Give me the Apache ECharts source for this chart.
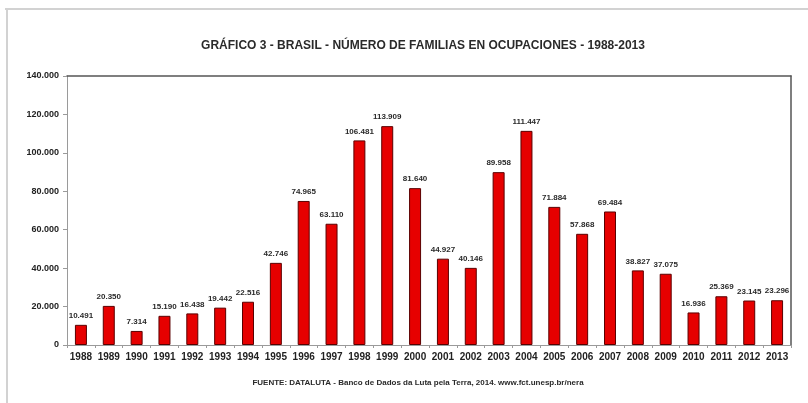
<!DOCTYPE html>
<html>
<head>
<meta charset="utf-8">
<style>
  html, body { margin: 0; padding: 0; background: #ffffff; }
  #chart { width: 808px; height: 403px; }
</style>
<script src="https://cdn.jsdelivr.net/npm/echarts@6/dist/echarts.min.js"></script>
</head>
<body>
<div id="chart"></div>
<script>
// Years on the category axis
const years = ['1988','1989','1990','1991','1992','1993','1994','1995','1996','1997','1998','1999','2000',
               '2001','2002','2003','2004','2005','2006','2007','2008','2009','2010','2011','2012','2013'];

// Families in land occupations per year
const families = [10491, 20350, 7314, 15190, 16438, 19442, 22516, 42746, 74965, 63110, 106481, 113909, 81640,
                  44927, 40146, 89958, 111447, 71884, 57868, 69484, 38827, 37075, 16936, 25369, 23145, 23296];

// Value axis range
const yMin = 0;
const yMax = 140000;
const yStep = 20000;

const titleText = 'GRÁFICO 3 - BRASIL - NÚMERO DE FAMILIAS EN OCUPACIONES - 1988-2013';
const sourceText = 'FUENTE: DATALUTA - Banco de Dados da Luta pela Terra, 2014. www.fct.unesp.br/nera';

// Thousands separated with a dot, as in Spanish/Portuguese usage
function fmt(v) {
  return String(Math.round(v)).replace(/\B(?=(\d{3})+(?!\d))/g, '.');
}

const chart = echarts.init(document.getElementById('chart'), null, { renderer: 'canvas' });

chart.setOption({
  backgroundColor: '#ffffff',
  animation: false,
  title: [
    {
      text: titleText,
      left: 418, top: 35, textAlign: 'center',
      textStyle: { fontFamily: '"Liberation Sans Narrow", "Arial Narrow", Arial, sans-serif',
                   fontSize: 12, fontWeight: 'bold', color: '#2a2a2a' }
    },
    {
      text: sourceText,
      left: 413, top: 374, textAlign: 'center',
      textStyle: { fontFamily: '"Liberation Sans", Arial, sans-serif',
                   fontSize: 8, fontWeight: 'bold', color: '#2a2a2a' }
    }
  ],
  graphic: [
    // outer frame of the figure
    { type: 'line', shape: { x1: 5, y1: 9, x2: 808, y2: 9 }, style: { stroke: '#d2d2d2', lineWidth: 2 } },
    { type: 'line', shape: { x1: 7, y1: 9, x2: 7, y2: 403 }, style: { stroke: '#d2d2d2', lineWidth: 2 } }
  ],
  grid: { left: 67, right: 17, top: 76, bottom: 58, containLabel: false },
  xAxis: [
    {
      type: 'category',
      data: years,
      boundaryGap: true,
      axisLine: { lineStyle: { color: '#9a9a9a', width: 1 } },
      axisTick: { show: true, length: 3, alignWithLabel: false, lineStyle: { color: '#9a9a9a' } },
      axisLabel: { margin: 7, fontFamily: '"Liberation Sans", Arial, sans-serif',
                   fontSize: 10, fontWeight: 'bold', color: '#222222', interval: 0 }
    },
    {
      type: 'category',
      data: years,
      position: 'top',
      axisLine: { show: true, onZero: false, lineStyle: { color: '#555555', width: 1.5 } },
      axisTick: { show: false },
      axisLabel: { show: false }
    }
  ],
  yAxis: [
    {
      type: 'value',
      min: yMin, max: yMax, interval: yStep,
      axisLine: { show: true, lineStyle: { color: '#9a9a9a', width: 1 } },
      axisTick: { show: true, length: 4, lineStyle: { color: '#9a9a9a' } },
      splitLine: { show: false },
      axisLabel: { margin: 8, formatter: fmt, fontFamily: '"Liberation Sans", Arial, sans-serif',
                   fontSize: 9, fontWeight: 'bold', color: '#222222' }
    },
    {
      type: 'value',
      min: yMin, max: yMax, interval: yStep,
      position: 'right',
      axisLine: { show: true, onZero: false, lineStyle: { color: '#555555', width: 1.5 } },
      axisTick: { show: false },
      splitLine: { show: false },
      axisLabel: { show: false }
    }
  ],
  series: [
    {
      type: 'bar',
      data: families,
      xAxisIndex: 0,
      yAxisIndex: 0,
      barWidth: 12,
      itemStyle: { color: '#e60000', borderColor: '#5a0000', borderWidth: 1 },
      label: {
        show: true,
        position: 'top',
        distance: 5,
        formatter: p => fmt(p.value),
        fontFamily: '"Liberation Sans", Arial, sans-serif',
        fontSize: 8, fontWeight: 'bold', color: '#2a2a2a'
      }
    }
  ]
});
</script>
</body>
</html>
